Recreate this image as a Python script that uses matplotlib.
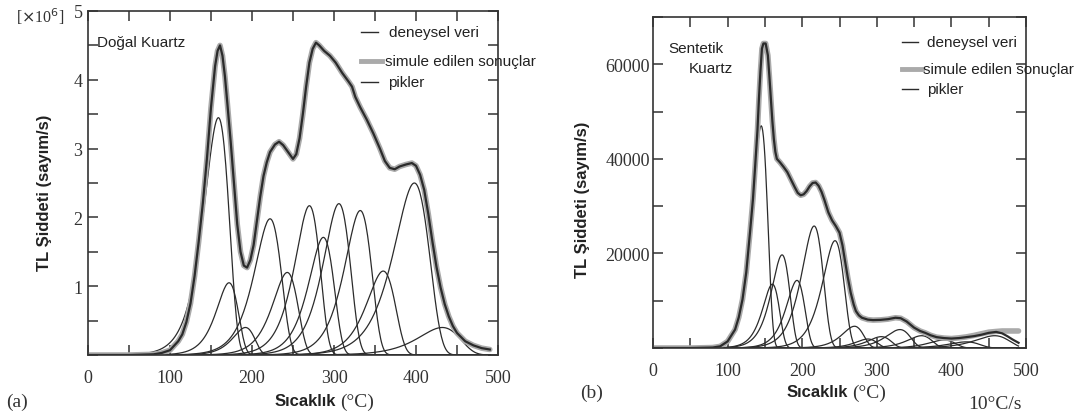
import numpy as np
import matplotlib
matplotlib.use("Agg")
import matplotlib.pyplot as plt
from matplotlib.ticker import MultipleLocator

# ---- (a) Doğal Kuartz : deneysel veri (x10^6 sayım/s) ----
temp_a = [0, 50, 80, 90, 100, 110, 115, 120, 125, 130, 135, 140, 145, 150, 155,
          158, 161, 164, 167, 170, 174, 178, 182, 186, 190, 194, 198, 202, 206,
          210, 214, 218, 222, 228, 233, 238, 244, 250, 254, 258, 262, 266, 270,
          274, 278, 282, 288, 295, 302, 310, 318, 322, 326, 332, 340, 348, 356,
          362, 368, 374, 380, 388, 395, 400, 405, 410, 415, 420, 425, 430, 435,
          440, 445, 450, 460, 470, 480, 490]
exp_a = [0.0, 0.0, 0.01, 0.03, 0.07, 0.2, 0.3, 0.48, 0.75, 1.15, 1.65, 2.2, 2.85,
         3.6, 4.2, 4.42, 4.5, 4.35, 4.05, 3.65, 3.1, 2.5, 1.9, 1.5, 1.3, 1.27,
         1.38, 1.6, 1.95, 2.3, 2.6, 2.8, 2.95, 3.06, 3.1, 3.05, 2.95, 2.85, 2.92,
         3.15, 3.5, 3.9, 4.25, 4.45, 4.54, 4.5, 4.42, 4.35, 4.25, 4.1, 3.97, 3.9,
         3.75, 3.6, 3.42, 3.22, 3.0, 2.82, 2.72, 2.7, 2.74, 2.77, 2.79, 2.75,
         2.62, 2.4, 2.05, 1.65, 1.28, 0.98, 0.74, 0.56, 0.42, 0.32, 0.2, 0.14,
         0.1, 0.08]
sim_a = exp_a

# pikler: tepe sıcaklığı, tepe şiddeti, genişlik
peak_tm_a = [159, 172, 192, 222, 243, 270, 287, 306, 332, 360, 398, 432]
peak_im_a = [3.45, 1.05, 0.40, 1.98, 1.20, 2.17, 1.71, 2.20, 2.10, 1.22, 2.50, 0.40]
peak_w_a = [15, 13, 13, 16, 15, 15, 15, 16, 16, 17, 21, 25]

# ---- (b) Sentetik Kuartz ----
temp_b = [0, 50, 80, 90, 100, 110, 115, 120, 125, 130, 134, 137, 140, 142, 144,
          146, 148, 151, 154, 156, 158, 160, 162, 164, 166, 170, 175, 180, 185,
          190, 194, 198, 202, 206, 210, 214, 218, 222, 226, 230, 235, 240, 245,
          250, 254, 257, 261, 265, 269, 272, 276, 280, 288, 295, 305, 315, 325,
          332, 340, 350, 358, 365, 372, 380, 390, 400, 410, 420, 430, 440, 450,
          460, 468, 475, 482, 490]
exp_b = [0, 0, 100, 350, 1400, 3900, 6500, 10300, 16000, 24400, 31500, 38600,
         46000, 52700, 58500, 63300, 64400, 64400, 61900, 57500, 52700, 48000,
         44200, 41500, 40000, 39300, 38300, 37200, 35600, 34000, 32800, 32300,
         32500, 33200, 34200, 34900, 35000, 34300, 33000, 31200, 28700, 27000,
         25800, 24400, 21700, 18800, 15000, 11700, 9200, 7800, 6900, 6400, 6000,
         5900, 5950, 6100, 6400, 6300, 5600, 4300, 3600, 3200, 2700, 2300, 2100,
         2000, 2100, 2300, 2500, 2800, 3200, 3400, 3100, 2500, 1800, 1100]
sim_b = exp_b[:66] + [2150, 2350, 2650, 3000, 3350, 3500, 3600, 3600, 3600, 3600]

peak_tm_b = [145, 160, 173, 193, 216, 244, 270, 288, 306, 331, 360, 390, 420, 458]
peak_im_b = [47000, 13500, 19700, 14300, 25800, 22700, 4600, 1900, 2400, 3900,
             2600, 1700, 1300, 2600]
peak_w_b = [10, 11, 12, 12, 14, 14, 14, 14, 15, 16, 16, 17, 20, 22]

W, H = 1091, 414
DARK = "#2b2b2b"
SERIF = "Liberation Serif"
SANS = "Liberation Sans"


def glow_peak(t, tm, im, w):
    # birinci derece ışıma piki
    x = (t - tm) / w
    return im * np.exp(1 + x - np.exp(x))


def style_axes(ax, ypad):
    ax.set_xlim(0, 500)
    ax.xaxis.set_major_locator(MultipleLocator(100))
    ax.xaxis.set_minor_locator(MultipleLocator(50))
    ax.tick_params(which="both", direction="in", top=True, right=True,
                   length=7, width=1.1, color="#333333")
    ax.tick_params(which="major", labelsize=13, labelcolor="#333333")
    ax.tick_params(axis="x", which="major", pad=10)
    ax.tick_params(axis="y", which="major", pad=ypad)
    for lab in ax.get_xticklabels() + ax.get_yticklabels():
        lab.set_fontfamily(SERIF)
    for sp in ax.spines.values():
        sp.set_linewidth(1.2)
        sp.set_color("#333333")


def draw_panel(ax, temp, exp_vals, sim_vals, tms, ims, ws):
    t = np.arange(0, 491, 1.0)
    for tm, im, w in zip(tms, ims, ws):
        ax.plot(t, glow_peak(t, tm, im, w), color=DARK, lw=0.9)
    ax.plot(temp, sim_vals, color="#aaaaaa", lw=4.0, solid_capstyle="round")
    ax.plot(temp, exp_vals, color=DARK, lw=1.6)


def legend(ax, x0, x1, xg, xt, xs, ys):
    # deneysel veri / simule edilen sonuçlar / pikler
    ax.plot([x0, x1], [ys[0], ys[0]], color=DARK, lw=1.0,
            transform=ax.transAxes, clip_on=False)
    ax.plot([x0, xg], [ys[1], ys[1]], color="#aaaaaa", lw=3.5,
            transform=ax.transAxes, clip_on=False)
    ax.plot([x0, x1], [ys[2], ys[2]], color=DARK, lw=1.0,
            transform=ax.transAxes, clip_on=False)
    kw = dict(transform=ax.transAxes, fontsize=11, family=SANS, color="#222222",
              va="center", clip_on=False)
    ax.text(xt, ys[0], "deneysel veri", **kw)
    ax.text(xs, ys[1], "simule edilen sonuçlar", **kw)
    ax.text(xt, ys[2], "pikler", **kw)


fig = plt.figure(figsize=(W / 100, H / 100), dpi=100)

ax1 = fig.add_axes([88 / W, 1 - 356 / H, 410 / W, 344 / H])
draw_panel(ax1, temp_a, exp_a, sim_a, peak_tm_a, peak_im_a, peak_w_a)
ax1.set_ylim(0, 5)
ax1.set_yticks([1, 2, 3, 4, 5])
ax1.yaxis.set_minor_locator(MultipleLocator(0.5))
style_axes(ax1, 4)
legend(ax1, 0.667, 0.707, 0.718, 0.733, 0.724, [0.939, 0.855, 0.794])
ax1.text(0.022, 0.91, "Doğal Kuartz", transform=ax1.transAxes, fontsize=11,
         family=SANS, color="#222222", va="center")

ax2 = fig.add_axes([653 / W, 1 - 349 / H, 373 / W, 331 / H])
draw_panel(ax2, temp_b, exp_b, sim_b, peak_tm_b, peak_im_b, peak_w_b)
ax2.set_ylim(0, 70000)
ax2.set_yticks([20000, 40000, 60000])
ax2.set_yticklabels(["20000", "40000", "60000"])
ax2.yaxis.set_minor_locator(MultipleLocator(10000))
style_axes(ax2, 2)
legend(ax2, 0.668, 0.71, 0.721, 0.735, 0.724, [0.924, 0.843, 0.782])
ax2.text(0.04, 0.905, "Sentetik", transform=ax2.transAxes, fontsize=11,
         family=SANS, color="#222222", va="center")
ax2.text(0.095, 0.845, "Kuartz", transform=ax2.transAxes, fontsize=11,
         family=SANS, color="#222222", va="center")


def fx(px):
    return px / W


def fy(py):
    return 1 - py / H


# eksen başlıkları
fig.text(fx(45), fy(193), "TL Şiddeti (sayım/s)", rotation=90, ha="center",
         va="center", fontsize=12, fontweight="bold", family=SANS, color="#222222")
fig.text(fx(583), fy(200), "TL Şiddeti (sayım/s)", rotation=90, ha="center",
         va="center", fontsize=12, fontweight="bold", family=SANS, color="#222222")

fig.text(fx(336), fy(402), "Sıcaklık", ha="right", va="center", fontsize=12,
         fontweight="bold", family=SANS, color="#222222")
fig.text(fx(340), fy(402), "(°C)", ha="left", va="center", fontsize=14,
         family=SERIF, color="#333333")
fig.text(fx(848), fy(393), "Sıcaklık", ha="right", va="center", fontsize=12,
         fontweight="bold", family=SANS, color="#222222")
fig.text(fx(852), fy(393), "(°C)", ha="left", va="center", fontsize=14,
         family=SERIF, color="#333333")

fig.text(fx(16), fy(17), r"[$\times$10$^6$]", ha="left", va="center",
         fontsize=11.5, family=SERIF, color="#333333")
fig.text(fx(6), fy(402), "(a)", ha="left", va="center", fontsize=14,
         family=SERIF, color="#333333")
fig.text(fx(580), fy(393), "(b)", ha="left", va="center", fontsize=14,
         family=SERIF, color="#333333")
fig.text(fx(968), fy(405), "10°C/s", ha="left", va="center", fontsize=14,
         family=SERIF, color="#333333")

fig.savefig("out.png", dpi=100)
